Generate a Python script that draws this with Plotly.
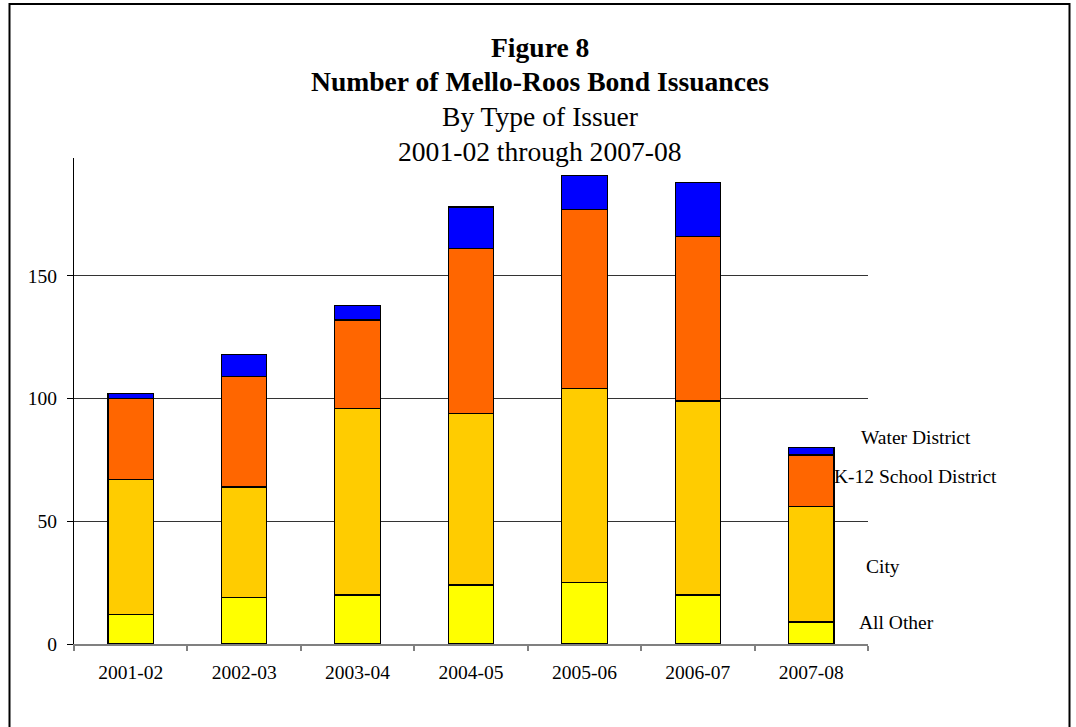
import plotly.graph_objects as go

years = ["2001-02", "2002-03", "2003-04", "2004-05", "2005-06", "2006-07", "2007-08"]
all_other = [12, 19, 20, 24, 25, 20, 9]
city = [55, 45, 76, 70, 79, 79, 47]
k12 = [33, 45, 36, 67, 73, 67, 21]
water = [2, 9, 6, 17, 14, 22, 3]

series_names = ["All Other", "City", "K-12 School District", "Water District"]
series_values = [all_other, city, k12, water]
series_colors = ["#FFFF00", "#FFCC00", "#FF6600", "#0000FF"]

title_lines = ["<b>Figure 8</b>", "<b>Number of Mello-Roos Bond Issuances</b>",
               "By Type of Issuer", "2001-02 through 2007-08"]

W, H = 1076, 727
# plot area in screen pixels
SX0, SX1, SY0, SY1 = 74, 868, 158, 644
L, R, T, B = SX0, W - SX1, SY0, H - SY1
PW, PH = SX1 - SX0, SY1 - SY0

def px(x):
    return (x - SX0) / PW

def py(y):
    return (SY1 - y) / PH

FONT = "Liberation Serif, Times New Roman, serif"

fig = go.Figure()
for name, vals, col in zip(series_names, series_values, series_colors):
    fig.add_trace(go.Bar(x=years, y=vals, name=name,
                         marker=dict(color=col, line=dict(color="black", width=1.2))))

annotations = []
title_y = [47, 81, 116, 151]
for txt, yy in zip(title_lines, title_y):
    annotations.append(dict(text=txt, x=px(540), y=py(yy), xref="paper", yref="paper",
                            xanchor="center", yanchor="middle", showarrow=False,
                            font=dict(family=FONT, size=27.6, color="black")))

legend_pos = {"Water District": (916.4, 437.3), "K-12 School District": (915, 476.7),
              "City": (883, 566), "All Other": (896.6, 622.7)}
for name, (lx, ly) in legend_pos.items():
    annotations.append(dict(text=name, x=px(lx), y=py(ly), xref="paper", yref="paper",
                            xanchor="center", yanchor="middle", showarrow=False,
                            font=dict(family=FONT, size=19.5, color="black")))

shapes = [dict(type="rect", xref="paper", yref="paper",
               x0=px(9.5), x1=px(1069.5), y0=py(740), y1=py(4),
               line=dict(color="black", width=2), fillcolor="rgba(0,0,0,0)", layer="below")]

fig.update_layout(
    width=W, height=H, margin=dict(l=L, r=R, t=T, b=B, pad=0),
    barmode="stack", bargap=0.6, showlegend=False,
    paper_bgcolor="white", plot_bgcolor="white",
    font=dict(family=FONT, size=19.5, color="black"),
    annotations=annotations, shapes=shapes,
    xaxis=dict(type="category", showline=True, linecolor="#808080", linewidth=1.5,
               ticks="outside", tickson="boundaries", ticklen=5, tickcolor="#808080",
               tickwidth=1.5, showgrid=False, ticklabelstandoff=10, range=[-0.5, 6.5]),
    yaxis=dict(range=[0, 198], tickvals=[0, 50, 100, 150], showline=True, linecolor="black",
               linewidth=1, ticks="outside", ticklen=6, tickcolor="black",
               showgrid=True, gridcolor="#333333", gridwidth=1, zeroline=False,
               ticklabelstandoff=6),
)

fig.write_html("out.html", config={"displayModeBar": False},
               post_script="document.body.style.margin='0';document.body.style.overflow='hidden';")
